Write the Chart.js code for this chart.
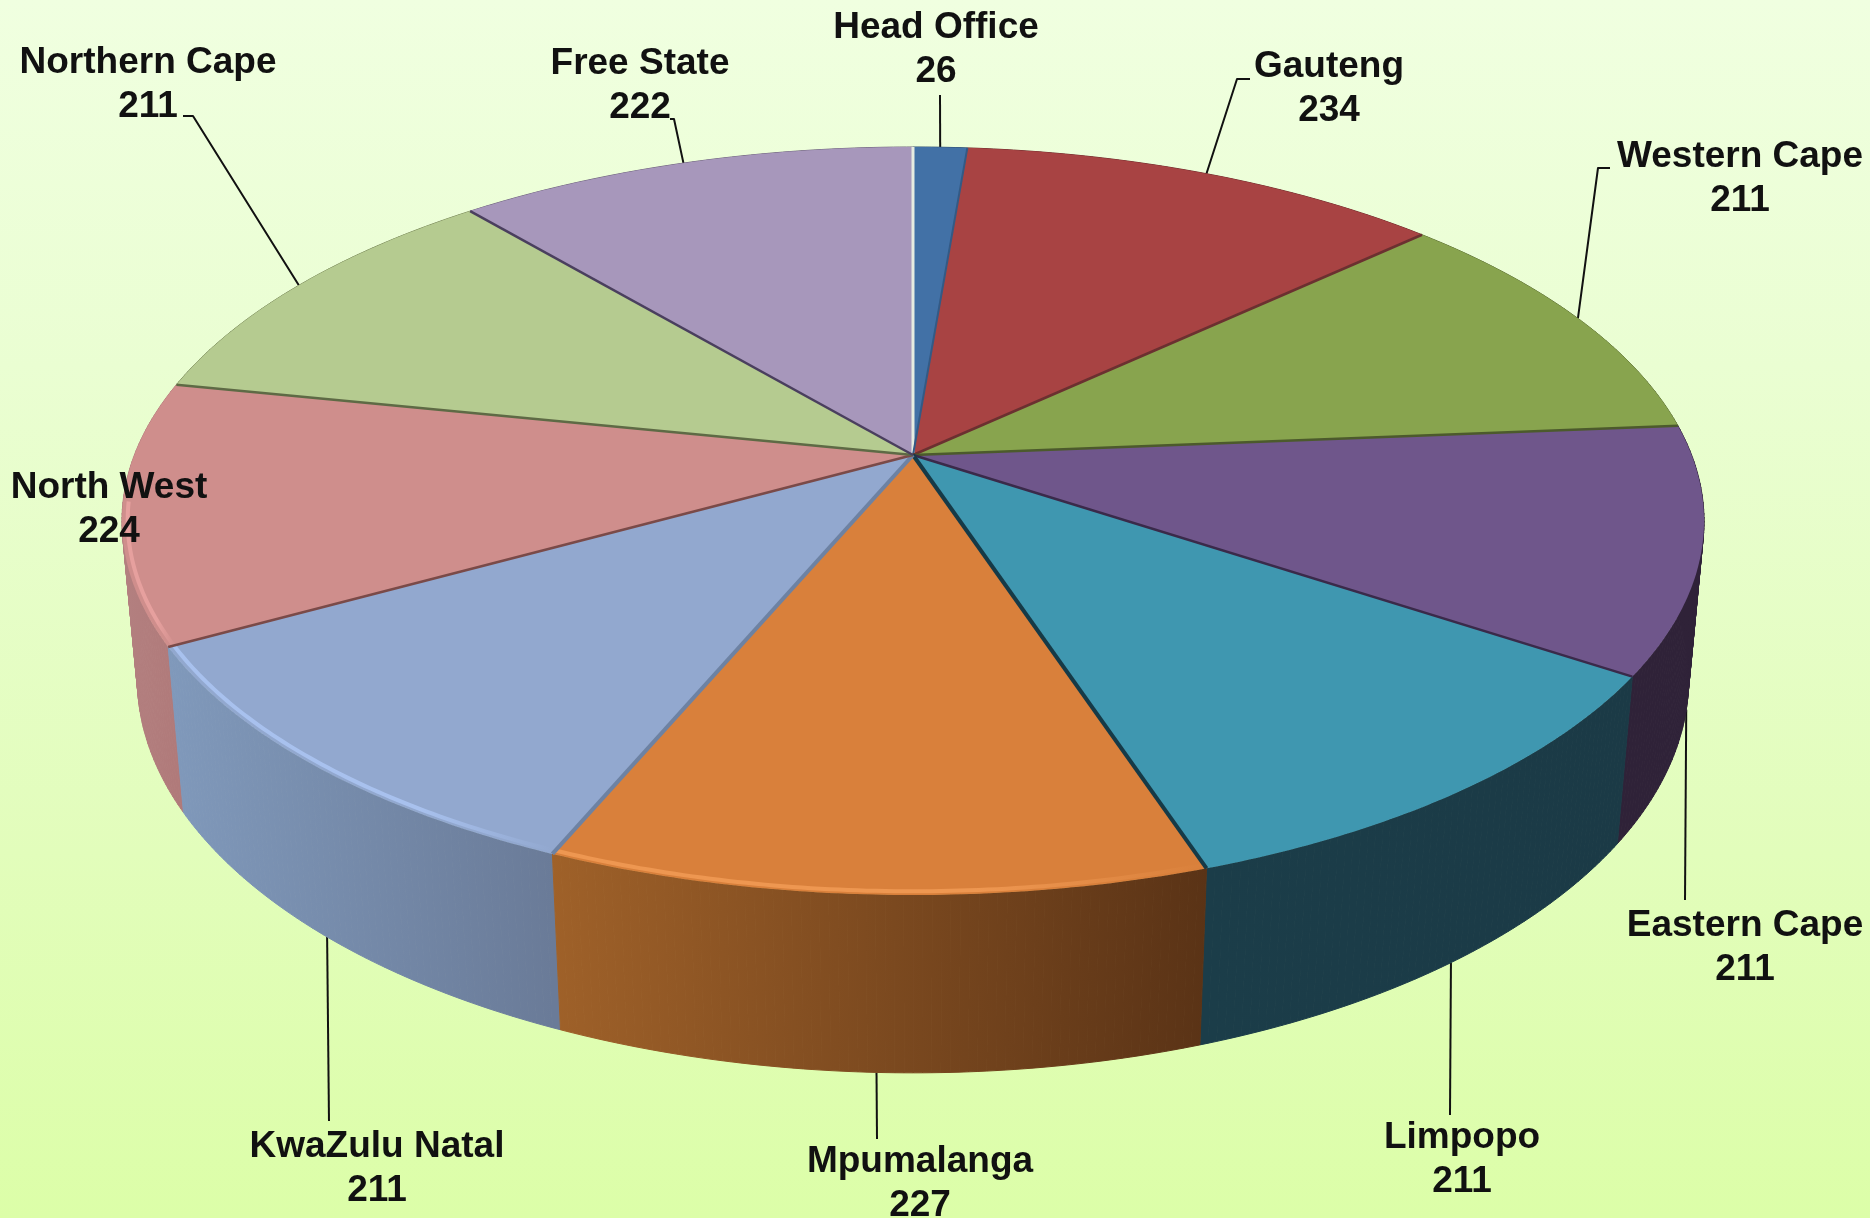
<!DOCTYPE html>
<html>
<head>
<meta charset="utf-8">
<title>Regions</title>
<script src="https://cdn.jsdelivr.net/npm/chart.js@4"></script>
<style>
    html, body { margin: 0; padding: 0; width: 1870px; height: 1218px; overflow: hidden; }
    body { background: linear-gradient(to bottom, #f0ffe0 0%, #eafed2 30%, #e2fdbb 70%, #dcfea8 100%); }
    canvas { display: block; filter: blur(0.6px); }
</style>
</head>
<body>
<canvas id="pieChart" width="1870" height="1218"></canvas>
<script>
var regionNames = ["Head Office", "Gauteng", "Western Cape", "Eastern Cape", "Limpopo", "Mpumalanga", "KwaZulu Natal", "North West", "Northern Cape", "Free State"];
var regionValues = [26, 234, 211, 211, 211, 227, 211, 224, 211, 222];

// colours per slice: top face, wall left -> right, spoke on the slice's start edge, rim highlight
var topColors = ["#4271a6", "#a84343", "#88a44e", "#6f568b", "#3f97b0", "#d9803b", "#92a8cf", "#cf8e8c", "#b5cb90", "#a797bb"];
var wallLeft = ["#2c4b6e", "#702d2d", "#5b6d34", "#2f2238", "#1b3d49", "#9f6129", "#8099bb", "#b38080", "#788758", "#6f647d"];
var wallRight = ["#2c4b6e", "#702d2d", "#5b6d34", "#2f2238", "#1b3a46", "#5a3316", "#6a7b98", "#b07a7a", "#788758", "#6f647d"];
var spokeColors = ["#e6ece0", "#335a85", "#6b3030", "#4c5a2c", "#3a2a4a", "#163a47", "#6d82a3", "#7a4a48", "#5e6a45", "#4a3f5e"];
var spokeWidths = [3, 2, 2.5, 2.5, 2.5, 4, 4, 2.5, 2.5, 2.5];
var rimColors = [null, null, null, null, null, "#ee9751", "#a8c1ee", "#e6a09e", null, null];

// label centres and leader bends, in page pixels (the first point of a leader comes from the slice)
var labelCentres = [[936, 28], [1329, 67], [1740, 157], [1745, 926], [1462, 1138], [920, 1162], [377, 1147], [109, 488], [148, 63], [640, 64]];
var leaderBends = [
    [[940, 95]],
    [[1237, 79], [1250, 79]],
    [[1598, 168], [1610, 168]],
    [[1685, 900]],
    [[1450, 1115]],
    [[877, 1139]],
    [[329, 1121]],
    [],
    [[193, 116], [183, 116]],
    [[674, 119], [670, 119]]
];
var leaderOnBottomRim = [false, false, false, true, true, true, true, false, false, false];

// perspective of the disc: circle -> page homography, and the wall vanishing point
var CX = 913, AX = 778.6, BY = 282.05, APEX_Y = 455, TILT = -0.1765;
var WALL = 0.0192, VANISH_Y = 8700;
var LINE_GAP = 44;

function project(angle, radius, depth) {
    var x = Math.cos(angle) * radius;
    var y = Math.sin(angle) * radius;
    var w = 1 + TILT * y;
    var d = depth ? WALL : 0;
    return [(CX * w + AX * x + d * CX) / (w + d), (BY * y + APEX_Y + d * VANISH_Y) / (w + d)];
}

function angleSteps(start, end) {
    var list = [];
    var n = Math.max(2, Math.ceil((end - start) / 0.01));
    for (var i = 0; i <= n; i++) list.push(start + (end - start) * i / n);
    return list;
}

function xRange(start, end) {
    var xs = angleSteps(start, end).map(function (a) { return project(a, 1, false)[0]; });
    return [Math.min.apply(null, xs), Math.max.apply(null, xs)];
}

function drawWall(ctx, arc, i) {
    var steps = angleSteps(arc.startAngle, arc.endAngle);
    var range = xRange(arc.startAngle, arc.endAngle);
    var grad = ctx.createLinearGradient(range[0], 0, range[1], 0);
    grad.addColorStop(0, wallLeft[i]);
    grad.addColorStop(1, wallRight[i]);
    ctx.fillStyle = grad;
    ctx.strokeStyle = grad;
    ctx.lineWidth = 1;
    // one quad per step, so the straight silhouette past the widest point gets covered too
    for (var n = 0; n < steps.length - 1; n++) {
        var a = project(steps[n], 1, false), b = project(steps[n + 1], 1, false);
        var c = project(steps[n + 1], 1, true), d = project(steps[n], 1, true);
        ctx.beginPath();
        ctx.moveTo(a[0], a[1]);
        ctx.lineTo(b[0], b[1]);
        ctx.lineTo(c[0], c[1]);
        ctx.lineTo(d[0], d[1]);
        ctx.closePath();
        ctx.fill();
        ctx.stroke();
    }
}

function drawTop(ctx, arc, i) {
    ctx.beginPath();
    ctx.moveTo(CX, APEX_Y);
    angleSteps(arc.startAngle, arc.endAngle).forEach(function (a) {
        var p = project(a, 1, false);
        ctx.lineTo(p[0], p[1]);
    });
    ctx.closePath();
    ctx.fillStyle = topColors[i];
    ctx.fill();
}

function drawRim(ctx, arc, i) {
    if (!rimColors[i]) return;
    var range = xRange(arc.startAngle, arc.endAngle);
    var grad = ctx.createLinearGradient(range[0], 0, range[1], 0);
    grad.addColorStop(0, rimColors[i]);
    grad.addColorStop(0.65, rimColors[i]);
    grad.addColorStop(1, topColors[i]);
    var first = true;
    ctx.beginPath();
    angleSteps(arc.startAngle, arc.endAngle).forEach(function (a) {
        if (Math.sin(a) < 0.12) return;
        var p = project(a, 0.993, false);
        if (first) ctx.moveTo(p[0], p[1]); else ctx.lineTo(p[0], p[1]);
        first = false;
    });
    ctx.strokeStyle = grad;
    ctx.lineWidth = 4;
    ctx.stroke();
}

function drawSpoke(ctx, arc, i) {
    var p = project(arc.startAngle, 1, false);
    ctx.beginPath();
    ctx.moveTo(CX, APEX_Y);
    ctx.lineTo(p[0], p[1]);
    ctx.strokeStyle = spokeColors[i];
    ctx.lineWidth = spokeWidths[i];
    ctx.stroke();
}

function drawLeader(ctx, arc, i) {
    var bends = leaderBends[i];
    if (!bends.length) return;
    var start = project((arc.startAngle + arc.endAngle) / 2, 1, leaderOnBottomRim[i]);
    ctx.beginPath();
    ctx.moveTo(start[0], start[1]);
    bends.forEach(function (b) { ctx.lineTo(b[0], b[1]); });
    ctx.strokeStyle = "#111";
    ctx.lineWidth = 2;
    ctx.stroke();
}

var disc3d = {
    id: "disc3d",
    // the library lays out the arcs, the plugin paints them in perspective
    beforeDatasetsDraw: function (chart) {
        var ctx = chart.ctx;
        var arcs = chart.getDatasetMeta(0).data;
        ctx.save();
        ctx.lineJoin = "round";
        var order = arcs.map(function (a, i) { return i; });
        order.sort(function (p, q) {
            return Math.sin((arcs[p].startAngle + arcs[p].endAngle) / 2) - Math.sin((arcs[q].startAngle + arcs[q].endAngle) / 2);
        });
        arcs.forEach(function (a, i) { drawLeader(ctx, a, i); });
        order.forEach(function (i) { drawWall(ctx, arcs[i], i); });
        arcs.forEach(function (a, i) { drawTop(ctx, a, i); });
        arcs.forEach(function (a, i) { drawRim(ctx, a, i); });
        arcs.forEach(function (a, i) { drawSpoke(ctx, a, i); });
        ctx.restore();
        return false;
    },
    afterDraw: function (chart) {
        var ctx = chart.ctx;
        ctx.save();
        ctx.font = "bold 37px 'Liberation Sans', Arial, sans-serif";
        ctx.fillStyle = "#111";
        ctx.textAlign = "center";
        ctx.textBaseline = "middle";
        regionNames.forEach(function (name, i) {
            var c = labelCentres[i];
            ctx.fillText(name, c[0], c[1]);
            ctx.fillText(String(regionValues[i]), c[0], c[1] + LINE_GAP);
        });
        ctx.restore();
    }
};

var PieChart = new Chart(document.getElementById("pieChart"), {
    type: "pie",
    data: {
        labels: regionNames,
        datasets: [{ data: regionValues, backgroundColor: topColors, borderWidth: 0 }]
    },
    options: {
        responsive: false,
        animation: false,
        plugins: { legend: { display: false }, tooltip: { enabled: false } }
    },
    plugins: [disc3d]
});
</script>
</body>
</html>
